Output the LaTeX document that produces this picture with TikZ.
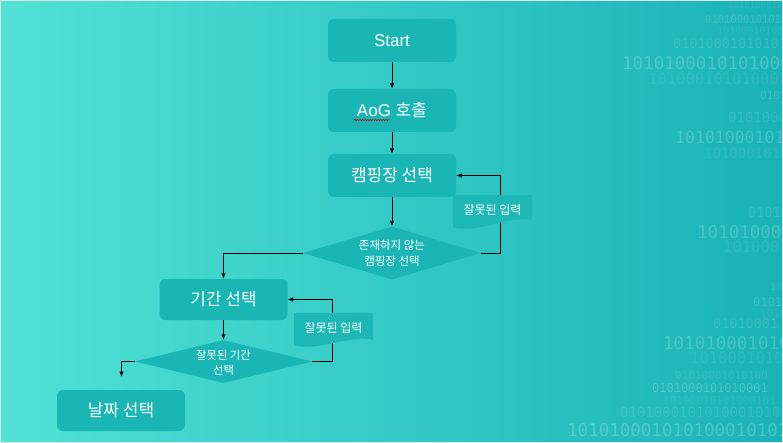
\documentclass[tikz,border=0pt]{standalone}
\usepackage{fontspec}
\setmainfont{Liberation Sans}
\newfontfamily\kr{Noto Sans CJK KR}
\newfontfamily\binfont{DejaVu Sans Mono}
\usetikzlibrary{shapes.geometric,arrows.meta,decorations.pathmorphing}
\definecolor{bgL}{HTML}{50E2D6}
\definecolor{bgR}{HTML}{19B2B7}
\definecolor{boxc}{HTML}{1AB6B5}
\definecolor{docc}{HTML}{1DB7B6}
\begin{document}
\begin{tikzpicture}[x=1pt,y=-1pt,
  procbox/.style={fill=boxc, rounded corners=6pt, minimum width=128pt, minimum height=43pt,
    inner sep=0pt, text=white, font=\fontsize{17}{20}\selectfont},
  decis/.style={diamond, fill=boxc, inner sep=0pt},
  dtext/.style={text=white, align=center, inner sep=0pt},
  doctext/.style={text=white, inner sep=0pt, minimum width=79pt, minimum height=32pt,
    font=\kr\fontsize{12}{14}\selectfont},
  conn/.style={draw=black, line width=0.9pt},
  arr/.style={conn, -{Latex[length=5.5pt,width=4.5pt]}},
  bin/.style={text=white, inner sep=0pt, anchor=west},
]
\useasboundingbox (0,0) rectangle (783,443);
\shade[left color=bgL, right color=bgR] (0,0) rectangle (783,443);

% binary decoration
\begin{scope}
\clip (0,0) rectangle (781,441);
\foreach \yy/\xx/\sz/\op/\tx [count=\i] in {
  5/728/9/0.08/1010100010,
  20/705/10.5/0.15/0101000101010,
  31/717/10/0.08/1010001010100,
  44/673/13.5/0.12/0101000101010100,
  63/622/17.5/0.22/10101000101010001,
  79/648/15.5/0.08/101000101010001,
  95/760/11/0.15/0101,
  117/728/14/0.12/0101000,
  137/675/16.5/0.2/101010001010,
  153/704/14/0.08/1010001010,
  213/748/13.5/0.12/01010,
  232/697/17.5/0.2/101010001,
  247/723/15.5/0.08/1010001,
  287/770/10/0.1/101,
  302/753/12/0.15/010101,
  313/760/11/0.08/1010,
  324/713/13.5/0.12/01010001,
  343/663/17.5/0.2/101010001010,
  358/690/15.5/0.08/1010001010,
  375/675/11/0.1/01010001010100,
  388/652/12/0.2/0101000101010001,
  400/663/11/0.08/10100010101000101,
  412/620/14/0.12/010100010101000101010,
  430/567/17.5/0.22/10101000101010001010100}
{
  \node[bin, opacity=\op, font=\binfont\fontsize{\sz}{\sz}\selectfont] (b\i) at (\xx,\yy) {\tx};
}
\end{scope}
\draw[gray!22, line width=1.3pt] (0.65,0.65) rectangle (782.35,442.35);

% process boxes
\node[procbox] (start) at (392,40.5) {Start};
\node[procbox] (aog) at (392,110.5) {AoG {\kr 호출}};
\node[procbox] (camp) at (392,175.5) {\kr 캠핑장 선택};
\node[procbox, minimum height=41pt] (gan) at (223.5,299.5) {\kr 기간 선택};
\node[procbox, minimum height=41pt] (date) at (121,410.5) {\kr 날짜 선택};

% decisions
\node[decis, minimum width=178pt, minimum height=53pt] (d1) at (392,253) {};
\node[dtext, font=\kr\fontsize{11.5}{15.5}\selectfont] (d1t) at (392,253) {존재하지 않는\\캠핑장 선택};
\node[decis, minimum width=177pt, minimum height=43pt] (d2) at (223.5,361.5) {};
\node[dtext, font=\kr\fontsize{11.3}{14.5}\selectfont] (d2t) at (223.5,363) {잘못된 기간\\선택};

% connectors
\draw[arr] (start.south) -- (aog.north);
\draw[arr] (aog.south) -- (camp.north);
\draw[arr] (camp.south) -- (d1.north);
\draw[arr] (d1.west) -| (gan.north);
\draw[arr] (gan.south) -- (d2.north);
\coordinate (d2end) at (121.5,377);
\draw[arr] (d2.west) -| (d2end);

% error documents (nodes)
\node[doctext] (err1) at (492.5,211) {};
\node[doctext] (err2) at (333.5,329) {};

\draw[conn] (d1.east) -| ([xshift=7.5pt]err1.center);
\draw[arr] ([xshift=7.5pt]err1.north) |- (camp.east);
\draw[conn] (d2.east) -| ([xshift=-1.5pt]err2.center);
\draw[arr] ([xshift=-1.5pt]err2.north) |- (gan.east);

\fill[docc] (err1.north west) -- (err1.north east) -- ([yshift=7pt]err1.south east)
  .. controls ([xshift=-20pt,yshift=13pt]err1.south east) and ([xshift=25pt,yshift=-7pt]err1.south west) .. (err1.south west) -- cycle;
\fill[docc] (err2.north west) -- (err2.north east) -- ([yshift=5pt]err2.south east)
  .. controls ([xshift=-20pt,yshift=12pt]err2.south east) and ([xshift=25pt,yshift=-7pt]err2.south west) .. (err2.south west) -- cycle;
\node[doctext] (err1t) at (492.5,210) {잘못된 입력};
\node[doctext] (err2t) at (333.5,328) {잘못된 입력};

% spell-check squiggle under AoG
\draw[red!75!black, line width=0.5pt, decorate, decoration={snake, amplitude=0.7pt, segment length=2.6pt}] (354,120) -- (390,120);
\end{tikzpicture}
\end{document}
